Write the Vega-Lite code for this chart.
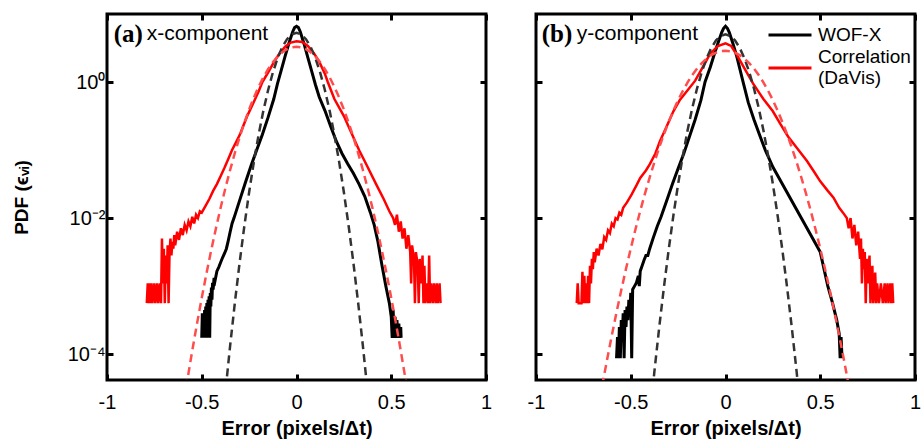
{
"$schema": "https://vega.github.io/schema/vega-lite/v6.json",
"padding": {"left": 10, "top": 10, "right": 0, "bottom": 2},
"background": "white",
"config": {
  "font": "Liberation Sans",
  "view": {"stroke": "black", "strokeWidth": 3},
  "axis": {"grid": false, "domain": false, "tickColor": "black", "tickWidth": 3, "tickSize": -6, "labelColor": "black", "titleColor": "black", "labelFont": "Liberation Sans", "titleFont": "Liberation Sans", "labelFlush": false, "labelOverlap": false, "labelBound": false}
},
"datasets": {
  "a_wof": [{"x":-0.500,"y":-3.76},{"x":-0.497,"y":-3.40},{"x":-0.494,"y":-3.76},{"x":-0.491,"y":-3.45},{"x":-0.488,"y":-3.76},{"x":-0.485,"y":-3.35},{"x":-0.482,"y":-3.76},{"x":-0.479,"y":-3.30},{"x":-0.476,"y":-3.60},{"x":-0.473,"y":-3.25},{"x":-0.470,"y":-3.76},{"x":-0.467,"y":-3.20},{"x":-0.464,"y":-3.45},{"x":-0.461,"y":-3.15},{"x":-0.458,"y":-3.76},{"x":-0.455,"y":-3.10},{"x":-0.452,"y":-3.30},{"x":-0.449,"y":-3.02},{"x":-0.446,"y":-3.20},{"x":-0.443,"y":-2.95},{"x":-0.440,"y":-3.05},{"x":-0.435,"y":-2.88},{"x":-0.430,"y":-2.92},{"x":-0.420,"y":-2.78},{"x":-0.410,"y":-2.72},{"x":-0.400,"y":-2.65},{"x":-0.390,"y":-2.58},{"x":-0.380,"y":-2.52},{"x":-0.370,"y":-2.45},{"x":-0.360,"y":-2.33},{"x":-0.350,"y":-2.20},{"x":-0.340,"y":-2.08},{"x":-0.330,"y":-2.00},{"x":-0.300,"y":-1.74},{"x":-0.270,"y":-1.48},{"x":-0.240,"y":-1.23},{"x":-0.210,"y":-1.00},{"x":-0.180,"y":-0.77},{"x":-0.150,"y":-0.52},{"x":-0.120,"y":-0.25},{"x":-0.100,"y":-0.02},{"x":-0.080,"y":0.18},{"x":-0.060,"y":0.38},{"x":-0.040,"y":0.57},{"x":-0.020,"y":0.74},{"x":-0.010,"y":0.80},{"x":0,"y":0.82},{"x":0.010,"y":0.80},{"x":0.020,"y":0.74},{"x":0.040,"y":0.56},{"x":0.060,"y":0.36},{"x":0.080,"y":0.16},{"x":0.100,"y":-0.04},{"x":0.120,"y":-0.22},{"x":0.150,"y":-0.42},{"x":0.180,"y":-0.65},{"x":0.210,"y":-0.87},{"x":0.240,"y":-1.05},{"x":0.270,"y":-1.20},{"x":0.300,"y":-1.34},{"x":0.330,"y":-1.50},{"x":0.360,"y":-1.68},{"x":0.390,"y":-1.92},{"x":0.410,"y":-2.10},{"x":0.430,"y":-2.35},{"x":0.450,"y":-2.68},{"x":0.470,"y":-2.98},{"x":0.490,"y":-3.25},{"x":0.500,"y":-3.45},{"x":0.505,"y":-3.76},{"x":0.510,"y":-3.35},{"x":0.515,"y":-3.76},{"x":0.520,"y":-3.45},{"x":0.525,"y":-3.76},{"x":0.530,"y":-3.50},{"x":0.535,"y":-3.76},{"x":0.540,"y":-3.55},{"x":0.545,"y":-3.76},{"x":0.550,"y":-3.60},{"x":0.552,"y":-3.76}],
  "a_corr": [{"x":-0.790,"y":-3.25},{"x":-0.785,"y":-2.96},{"x":-0.780,"y":-3.25},{"x":-0.775,"y":-2.96},{"x":-0.770,"y":-3.25},{"x":-0.765,"y":-2.96},{"x":-0.760,"y":-3.25},{"x":-0.750,"y":-2.96},{"x":-0.745,"y":-3.25},{"x":-0.735,"y":-2.96},{"x":-0.730,"y":-3.25},{"x":-0.720,"y":-2.96},{"x":-0.715,"y":-3.25},{"x":-0.710,"y":-2.30},{"x":-0.705,"y":-2.96},{"x":-0.700,"y":-2.45},{"x":-0.695,"y":-3.25},{"x":-0.690,"y":-2.55},{"x":-0.685,"y":-2.96},{"x":-0.680,"y":-2.40},{"x":-0.675,"y":-3.25},{"x":-0.670,"y":-2.50},{"x":-0.665,"y":-2.30},{"x":-0.660,"y":-2.55},{"x":-0.655,"y":-2.35},{"x":-0.650,"y":-2.45},{"x":-0.645,"y":-2.25},{"x":-0.640,"y":-2.40},{"x":-0.630,"y":-2.20},{"x":-0.620,"y":-2.32},{"x":-0.610,"y":-2.15},{"x":-0.600,"y":-2.25},{"x":-0.590,"y":-2.10},{"x":-0.580,"y":-2.18},{"x":-0.570,"y":-2.05},{"x":-0.560,"y":-2.12},{"x":-0.550,"y":-1.98},{"x":-0.540,"y":-2.08},{"x":-0.530,"y":-1.95},{"x":-0.520,"y":-2.00},{"x":-0.510,"y":-1.90},{"x":-0.500,"y":-1.92},{"x":-0.480,"y":-1.82},{"x":-0.460,"y":-1.72},{"x":-0.440,"y":-1.60},{"x":-0.420,"y":-1.50},{"x":-0.400,"y":-1.38},{"x":-0.380,"y":-1.26},{"x":-0.360,"y":-1.13},{"x":-0.340,"y":-1.00},{"x":-0.320,"y":-0.89},{"x":-0.300,"y":-0.78},{"x":-0.280,"y":-0.64},{"x":-0.260,"y":-0.50},{"x":-0.240,"y":-0.38},{"x":-0.220,"y":-0.26},{"x":-0.200,"y":-0.14},{"x":-0.180,"y":0.00},{"x":-0.150,"y":0.14},{"x":-0.120,"y":0.29},{"x":-0.090,"y":0.42},{"x":-0.060,"y":0.52},{"x":-0.030,"y":0.58},{"x":0,"y":0.60},{"x":0.030,"y":0.59},{"x":0.060,"y":0.53},{"x":0.090,"y":0.43},{"x":0.120,"y":0.30},{"x":0.150,"y":0.12},{"x":0.165,"y":0.00},{"x":0.200,"y":-0.25},{"x":0.250,"y":-0.50},{"x":0.290,"y":-0.75},{"x":0.330,"y":-1.00},{"x":0.370,"y":-1.22},{"x":0.420,"y":-1.50},{"x":0.460,"y":-1.72},{"x":0.490,"y":-1.90},{"x":0.510,"y":-2.00},{"x":0.520,"y":-2.10},{"x":0.530,"y":-1.95},{"x":0.540,"y":-2.20},{"x":0.550,"y":-2.05},{"x":0.560,"y":-2.30},{"x":0.570,"y":-2.15},{"x":0.580,"y":-2.45},{"x":0.590,"y":-2.25},{"x":0.600,"y":-2.50},{"x":0.605,"y":-2.96},{"x":0.610,"y":-2.40},{"x":0.620,"y":-2.60},{"x":0.625,"y":-3.25},{"x":0.630,"y":-2.50},{"x":0.640,"y":-2.70},{"x":0.645,"y":-3.25},{"x":0.650,"y":-2.60},{"x":0.660,"y":-2.96},{"x":0.665,"y":-2.55},{"x":0.670,"y":-3.25},{"x":0.675,"y":-2.70},{"x":0.680,"y":-3.25},{"x":0.690,"y":-2.96},{"x":0.695,"y":-3.25},{"x":0.700,"y":-2.55},{"x":0.705,"y":-3.25},{"x":0.710,"y":-2.96},{"x":0.720,"y":-3.25},{"x":0.725,"y":-2.96},{"x":0.735,"y":-3.25},{"x":0.740,"y":-2.96},{"x":0.745,"y":-3.25},{"x":0.755,"y":-2.96},{"x":0.760,"y":-3.25}],
  "a_wof_fit": [{"x":-0.4,"y":-5.276},{"x":-0.375,"y":-4.549},{"x":-0.35,"y":-3.87},{"x":-0.325,"y":-3.237},{"x":-0.3,"y":-2.651},{"x":-0.275,"y":-2.112},{"x":-0.25,"y":-1.62},{"x":-0.225,"y":-1.174},{"x":-0.2,"y":-0.776},{"x":-0.175,"y":-0.424},{"x":-0.15,"y":-0.12},{"x":-0.125,"y":0.138},{"x":-0.1,"y":0.349},{"x":-0.075,"y":0.513},{"x":-0.05,"y":0.63},{"x":-0.025,"y":0.70},{"x":0,"y":0.724},{"x":0.025,"y":0.70},{"x":0.05,"y":0.63},{"x":0.075,"y":0.513},{"x":0.1,"y":0.349},{"x":0.125,"y":0.138},{"x":0.15,"y":-0.12},{"x":0.175,"y":-0.424},{"x":0.2,"y":-0.776},{"x":0.225,"y":-1.174},{"x":0.25,"y":-1.62},{"x":0.275,"y":-2.112},{"x":0.3,"y":-2.651},{"x":0.325,"y":-3.237},{"x":0.35,"y":-3.87},{"x":0.375,"y":-4.549},{"x":0.4,"y":-5.276}],
  "a_corr_fit": [{"x":-0.625,"y":-5.25},{"x":-0.6,"y":-4.797},{"x":-0.575,"y":-4.363},{"x":-0.55,"y":-3.948},{"x":-0.525,"y":-3.551},{"x":-0.5,"y":-3.173},{"x":-0.475,"y":-2.812},{"x":-0.45,"y":-2.471},{"x":-0.425,"y":-2.148},{"x":-0.4,"y":-1.843},{"x":-0.375,"y":-1.557},{"x":-0.35,"y":-1.289},{"x":-0.325,"y":-1.04},{"x":-0.3,"y":-0.809},{"x":-0.275,"y":-0.597},{"x":-0.25,"y":-0.403},{"x":-0.225,"y":-0.228},{"x":-0.2,"y":-0.071},{"x":-0.175,"y":0.068},{"x":-0.15,"y":0.188},{"x":-0.125,"y":0.289},{"x":-0.1,"y":0.372},{"x":-0.075,"y":0.437},{"x":-0.05,"y":0.483},{"x":-0.025,"y":0.511},{"x":0,"y":0.52},{"x":0.025,"y":0.511},{"x":0.05,"y":0.483},{"x":0.075,"y":0.437},{"x":0.1,"y":0.372},{"x":0.125,"y":0.289},{"x":0.15,"y":0.188},{"x":0.175,"y":0.068},{"x":0.2,"y":-0.071},{"x":0.225,"y":-0.228},{"x":0.25,"y":-0.403},{"x":0.275,"y":-0.597},{"x":0.3,"y":-0.809},{"x":0.325,"y":-1.04},{"x":0.35,"y":-1.289},{"x":0.375,"y":-1.557},{"x":0.4,"y":-1.843},{"x":0.425,"y":-2.148},{"x":0.45,"y":-2.471},{"x":0.475,"y":-2.812},{"x":0.5,"y":-3.173},{"x":0.525,"y":-3.551},{"x":0.55,"y":-3.948},{"x":0.575,"y":-4.363},{"x":0.6,"y":-4.797},{"x":0.625,"y":-5.25}],
  "b_wof": [{"x":-0.575,"y":-4.06},{"x":-0.570,"y":-3.75},{"x":-0.565,"y":-4.06},{"x":-0.560,"y":-3.60},{"x":-0.555,"y":-4.06},{"x":-0.550,"y":-3.50},{"x":-0.545,"y":-3.80},{"x":-0.540,"y":-3.40},{"x":-0.535,"y":-4.06},{"x":-0.530,"y":-3.35},{"x":-0.525,"y":-3.60},{"x":-0.520,"y":-3.30},{"x":-0.515,"y":-3.50},{"x":-0.510,"y":-3.20},{"x":-0.505,"y":-3.45},{"x":-0.500,"y":-3.10},{"x":-0.495,"y":-4.06},{"x":-0.490,"y":-3.05},{"x":-0.480,"y":-3.00},{"x":-0.470,"y":-2.95},{"x":-0.460,"y":-2.85},{"x":-0.455,"y":-3.00},{"x":-0.450,"y":-2.78},{"x":-0.440,"y":-2.70},{"x":-0.430,"y":-2.62},{"x":-0.420,"y":-2.55},{"x":-0.410,"y":-2.55},{"x":-0.400,"y":-2.45},{"x":-0.380,"y":-2.28},{"x":-0.360,"y":-2.12},{"x":-0.340,"y":-1.98},{"x":-0.310,"y":-1.74},{"x":-0.280,"y":-1.50},{"x":-0.250,"y":-1.27},{"x":-0.220,"y":-1.05},{"x":-0.190,"y":-0.80},{"x":-0.160,"y":-0.55},{"x":-0.130,"y":-0.27},{"x":-0.108,"y":0.00},{"x":-0.080,"y":0.22},{"x":-0.060,"y":0.40},{"x":-0.040,"y":0.57},{"x":-0.020,"y":0.73},{"x":-0.010,"y":0.79},{"x":0,"y":0.82},{"x":0.010,"y":0.79},{"x":0.020,"y":0.73},{"x":0.040,"y":0.56},{"x":0.060,"y":0.37},{"x":0.093,"y":0.00},{"x":0.120,"y":-0.30},{"x":0.150,"y":-0.55},{"x":0.180,"y":-0.78},{"x":0.210,"y":-1.00},{"x":0.250,"y":-1.25},{"x":0.300,"y":-1.50},{"x":0.350,"y":-1.75},{"x":0.400,"y":-2.00},{"x":0.450,"y":-2.25},{"x":0.500,"y":-2.50},{"x":0.520,"y":-2.75},{"x":0.540,"y":-3.00},{"x":0.565,"y":-3.25},{"x":0.587,"y":-3.50},{"x":0.600,"y":-3.70},{"x":0.605,"y":-4.06},{"x":0.610,"y":-3.75},{"x":0.615,"y":-4.06}],
  "b_corr": [{"x":-0.785,"y":-3.25},{"x":-0.780,"y":-2.96},{"x":-0.775,"y":-3.25},{"x":-0.760,"y":-3.25},{"x":-0.755,"y":-2.79},{"x":-0.750,"y":-3.25},{"x":-0.745,"y":-2.85},{"x":-0.740,"y":-3.25},{"x":-0.735,"y":-2.96},{"x":-0.730,"y":-3.25},{"x":-0.725,"y":-2.85},{"x":-0.720,"y":-3.25},{"x":-0.715,"y":-2.70},{"x":-0.710,"y":-2.96},{"x":-0.705,"y":-2.60},{"x":-0.700,"y":-2.75},{"x":-0.695,"y":-2.50},{"x":-0.690,"y":-2.65},{"x":-0.680,"y":-2.45},{"x":-0.670,"y":-2.55},{"x":-0.660,"y":-2.38},{"x":-0.650,"y":-2.46},{"x":-0.640,"y":-2.28},{"x":-0.630,"y":-2.32},{"x":-0.620,"y":-2.18},{"x":-0.610,"y":-2.22},{"x":-0.600,"y":-2.08},{"x":-0.590,"y":-2.12},{"x":-0.580,"y":-2.00},{"x":-0.570,"y":-2.02},{"x":-0.560,"y":-1.92},{"x":-0.550,"y":-1.95},{"x":-0.540,"y":-1.85},{"x":-0.520,"y":-1.77},{"x":-0.495,"y":-1.65},{"x":-0.470,"y":-1.52},{"x":-0.450,"y":-1.41},{"x":-0.420,"y":-1.30},{"x":-0.400,"y":-1.21},{"x":-0.370,"y":-1.05},{"x":-0.346,"y":-0.87},{"x":-0.310,"y":-0.65},{"x":-0.275,"y":-0.43},{"x":-0.240,"y":-0.26},{"x":-0.200,"y":-0.12},{"x":-0.160,"y":0.02},{"x":-0.120,"y":0.22},{"x":-0.080,"y":0.42},{"x":-0.040,"y":0.53},{"x":0,"y":0.57},{"x":0.030,"y":0.53},{"x":0.060,"y":0.40},{"x":0.100,"y":0.20},{"x":0.145,"y":-0.02},{"x":0.200,"y":-0.25},{"x":0.250,"y":-0.43},{"x":0.290,"y":-0.62},{"x":0.330,"y":-0.80},{"x":0.380,"y":-0.98},{"x":0.430,"y":-1.16},{"x":0.470,"y":-1.33},{"x":0.500,"y":-1.46},{"x":0.540,"y":-1.60},{"x":0.570,"y":-1.70},{"x":0.600,"y":-1.85},{"x":0.620,"y":-1.92},{"x":0.640,"y":-2.00},{"x":0.650,"y":-2.15},{"x":0.660,"y":-2.00},{"x":0.670,"y":-2.30},{"x":0.680,"y":-2.10},{"x":0.690,"y":-2.40},{"x":0.700,"y":-2.20},{"x":0.710,"y":-2.60},{"x":0.715,"y":-2.30},{"x":0.720,"y":-2.96},{"x":0.725,"y":-2.45},{"x":0.730,"y":-2.75},{"x":0.735,"y":-2.50},{"x":0.740,"y":-3.25},{"x":0.745,"y":-2.60},{"x":0.750,"y":-2.96},{"x":0.760,"y":-2.55},{"x":0.765,"y":-3.25},{"x":0.775,"y":-2.70},{"x":0.780,"y":-3.25},{"x":0.790,"y":-2.80},{"x":0.795,"y":-3.25},{"x":0.800,"y":-2.96},{"x":0.810,"y":-3.25},{"x":0.820,"y":-2.96},{"x":0.830,"y":-3.25},{"x":0.840,"y":-2.96},{"x":0.845,"y":-3.25},{"x":0.855,"y":-2.96},{"x":0.860,"y":-3.25},{"x":0.870,"y":-2.96},{"x":0.875,"y":-3.25},{"x":0.880,"y":-2.96},{"x":0.885,"y":-3.25}],
  "b_wof_fit": [{"x":-0.425,"y":-5.657},{"x":-0.4,"y":-4.932},{"x":-0.375,"y":-4.25},{"x":-0.35,"y":-3.612},{"x":-0.325,"y":-3.018},{"x":-0.3,"y":-2.468},{"x":-0.275,"y":-1.962},{"x":-0.25,"y":-1.5},{"x":-0.225,"y":-1.082},{"x":-0.2,"y":-0.708},{"x":-0.175,"y":-0.378},{"x":-0.15,"y":-0.092},{"x":-0.125,"y":0.15},{"x":-0.1,"y":0.348},{"x":-0.075,"y":0.502},{"x":-0.05,"y":0.612},{"x":-0.025,"y":0.678},{"x":0,"y":0.7},{"x":0.025,"y":0.678},{"x":0.05,"y":0.612},{"x":0.075,"y":0.502},{"x":0.1,"y":0.348},{"x":0.125,"y":0.15},{"x":0.15,"y":-0.092},{"x":0.175,"y":-0.378},{"x":0.2,"y":-0.708},{"x":0.225,"y":-1.082},{"x":0.25,"y":-1.5},{"x":0.275,"y":-1.962},{"x":0.3,"y":-2.468},{"x":0.325,"y":-3.018},{"x":0.35,"y":-3.612},{"x":0.375,"y":-4.25},{"x":0.4,"y":-4.932},{"x":0.425,"y":-5.657}],
  "b_corr_fit": [{"x":-0.675,"y":-4.839},{"x":-0.65,"y":-4.454},{"x":-0.625,"y":-4.083},{"x":-0.6,"y":-3.727},{"x":-0.575,"y":-3.385},{"x":-0.55,"y":-3.058},{"x":-0.525,"y":-2.746},{"x":-0.5,"y":-2.448},{"x":-0.475,"y":-2.164},{"x":-0.45,"y":-1.895},{"x":-0.425,"y":-1.64},{"x":-0.4,"y":-1.401},{"x":-0.375,"y":-1.175},{"x":-0.35,"y":-0.965},{"x":-0.325,"y":-0.768},{"x":-0.3,"y":-0.587},{"x":-0.275,"y":-0.419},{"x":-0.25,"y":-0.267},{"x":-0.225,"y":-0.129},{"x":-0.2,"y":-0.005},{"x":-0.175,"y":0.104},{"x":-0.15,"y":0.198},{"x":-0.125,"y":0.278},{"x":-0.1,"y":0.344},{"x":-0.075,"y":0.395},{"x":-0.05,"y":0.431},{"x":-0.025,"y":0.453},{"x":0,"y":0.46},{"x":0.025,"y":0.453},{"x":0.05,"y":0.431},{"x":0.075,"y":0.395},{"x":0.1,"y":0.344},{"x":0.125,"y":0.278},{"x":0.15,"y":0.198},{"x":0.175,"y":0.104},{"x":0.2,"y":-0.005},{"x":0.225,"y":-0.129},{"x":0.25,"y":-0.267},{"x":0.275,"y":-0.419},{"x":0.3,"y":-0.587},{"x":0.325,"y":-0.768},{"x":0.35,"y":-0.965},{"x":0.375,"y":-1.175},{"x":0.4,"y":-1.401},{"x":0.425,"y":-1.64},{"x":0.45,"y":-1.895},{"x":0.475,"y":-2.164},{"x":0.5,"y":-2.448},{"x":0.525,"y":-2.746},{"x":0.55,"y":-3.058},{"x":0.575,"y":-3.385},{"x":0.6,"y":-3.727},{"x":0.625,"y":-4.083},{"x":0.65,"y":-4.454},{"x":0.675,"y":-4.839}]
},
"spacing": 31,
"resolve": {"scale": {"color": "independent"}, "legend": {"color": "independent"}},
"hconcat": [
 {
  "width": 379, "height": 366,
  "resolve": {"axis": {"x": "independent", "y": "independent"}},
  "layer": [
   {"data": {"name": "a_wof"}, "mark": {"type": "line", "strokeWidth": 3, "clip": true},
    "encoding": {
     "x": {"field": "x", "type": "quantitative", "scale": {"domain": [-1, 1], "nice": false, "zero": false},
       "axis": {"orient": "bottom", "values": [-1, -0.5, 0, 0.5, 1], "labelExpr": "datum.value < 0 ? '-' + format(-datum.value, '~g') : format(datum.value, '~g')", "labelFontSize": 20, "labelPadding": 18, "title": "Error (pixels/Δt)", "titleFontSize": 20, "titleFontWeight": "bold", "titlePadding": 6}},
     "y": {"field": "y", "type": "quantitative", "scale": {"domain": [-4.38, 1], "nice": false, "zero": false},
       "axis": {"orient": "left", "values": [-4, -2, 0], "labelExpr": "datum.value == 0 ? '10⁰' : datum.value == -2 ? '10⁻²' : '10⁻⁴'", "labelFontSize": 20, "labelPadding": 8, "title": "PDF (ϵᵥᵢ)", "titleFontSize": 19, "titleFontWeight": "bold", "titlePadding": 36}},
     "color": {"datum": "WOF-X", "type": "nominal", "scale": {"domain": ["WOF-X", "Correlation (DaVis)"], "range": ["#000000", "#ff0000"]}, "legend": null}
    }},
   {"data": {"name": "a_corr"}, "mark": {"type": "line", "strokeWidth": 2.5, "clip": true},
    "encoding": {
     "x": {"field": "x", "type": "quantitative", "axis": null},
     "y": {"field": "y", "type": "quantitative", "axis": null},
     "color": {"datum": "Correlation (DaVis)", "type": "nominal", "legend": null}
    }},
   {"data": {"name": "a_wof_fit"}, "mark": {"type": "line", "strokeWidth": 2.5, "strokeDash": [8, 5], "color": "#333333", "clip": true},
    "encoding": {
     "x": {"field": "x", "type": "quantitative", "axis": {"orient": "top", "values": [-1, -0.5, 0, 0.5, 1], "labels": false, "title": null}},
     "y": {"field": "y", "type": "quantitative", "axis": {"orient": "right", "values": [-4, -2, 0], "labels": false, "title": null}}
    }},
   {"data": {"name": "a_corr_fit"}, "mark": {"type": "line", "strokeWidth": 2.5, "strokeDash": [8, 5], "color": "#ff4d4d", "clip": true},
    "encoding": {
     "x": {"field": "x", "type": "quantitative", "axis": null},
     "y": {"field": "y", "type": "quantitative", "axis": null}
    }},
   {"data": {"values": [{}]}, "mark": {"type": "text", "text": "(a)", "font": "Liberation Serif", "fontWeight": "bold", "fontSize": 25, "align": "left", "baseline": "middle"},
    "encoding": {"x": {"datum": -0.965, "type": "quantitative", "axis": null}, "y": {"datum": 0.7, "type": "quantitative", "axis": null}}},
   {"data": {"values": [{}]}, "mark": {"type": "text", "text": "x-component", "fontSize": 21, "align": "left", "baseline": "middle"},
    "encoding": {"x": {"datum": -0.79, "type": "quantitative", "axis": null}, "y": {"datum": 0.7, "type": "quantitative", "axis": null}}}
  ]
 },
 {
  "width": 379, "height": 366,
  "resolve": {"axis": {"x": "independent", "y": "independent"}},
  "layer": [
   {"data": {"name": "b_wof"}, "mark": {"type": "line", "strokeWidth": 3, "clip": true},
    "encoding": {
     "x": {"field": "x", "type": "quantitative", "scale": {"domain": [-1, 1], "nice": false, "zero": false},
       "axis": {"orient": "bottom", "values": [-1, -0.5, 0, 0.5, 1], "labelExpr": "datum.value < 0 ? '-' + format(-datum.value, '~g') : format(datum.value, '~g')", "labelFontSize": 20, "labelPadding": 18, "title": "Error (pixels/Δt)", "titleFontSize": 20, "titleFontWeight": "bold", "titlePadding": 6}},
     "y": {"field": "y", "type": "quantitative", "scale": {"domain": [-4.38, 1], "nice": false, "zero": false},
       "axis": {"orient": "left", "values": [-4, -2, 0], "labels": false, "title": null}},
     "color": {"datum": "WOF-X", "type": "nominal", "scale": {"domain": ["WOF-X", "Correlation (DaVis)"], "range": ["#000000", "#ff0000"]},
       "legend": {"orient": "none", "legendX": 231, "legendY": -2, "title": null, "symbolType": "stroke", "symbolSize": 1849, "symbolStrokeWidth": 3, "labelFontSize": 19, "labelFont": "Liberation Sans", "labelColor": "black", "labelExpr": "datum.label == 'Correlation (DaVis)' ? ['Correlation', '(DaVis)'] : datum.label", "labelLimit": 300, "padding": 0, "rowPadding": -9, "labelOffset": 5,
         "encoding": {"labels": {"dy": {"value": {"expr": "datum.value == 'Correlation (DaVis)' ? -11 : 0"}}}}}}
    }},
   {"data": {"name": "b_corr"}, "mark": {"type": "line", "strokeWidth": 2.5, "clip": true},
    "encoding": {
     "x": {"field": "x", "type": "quantitative", "axis": null},
     "y": {"field": "y", "type": "quantitative", "axis": null},
     "color": {"datum": "Correlation (DaVis)", "type": "nominal"}
    }},
   {"data": {"name": "b_wof_fit"}, "mark": {"type": "line", "strokeWidth": 2.5, "strokeDash": [8, 5], "color": "#333333", "clip": true},
    "encoding": {
     "x": {"field": "x", "type": "quantitative", "axis": {"orient": "top", "values": [-1, -0.5, 0, 0.5, 1], "labels": false, "title": null}},
     "y": {"field": "y", "type": "quantitative", "axis": {"orient": "right", "values": [-4, -2, 0], "labels": false, "title": null}}
    }},
   {"data": {"name": "b_corr_fit"}, "mark": {"type": "line", "strokeWidth": 2.5, "strokeDash": [8, 5], "color": "#ff4d4d", "clip": true},
    "encoding": {
     "x": {"field": "x", "type": "quantitative", "axis": null},
     "y": {"field": "y", "type": "quantitative", "axis": null}
    }},
   {"data": {"values": [{}]}, "mark": {"type": "text", "text": "(b)", "font": "Liberation Serif", "fontWeight": "bold", "fontSize": 25, "align": "left", "baseline": "middle"},
    "encoding": {"x": {"datum": -0.97, "type": "quantitative", "axis": null}, "y": {"datum": 0.7, "type": "quantitative", "axis": null}}},
   {"data": {"values": [{}]}, "mark": {"type": "text", "text": "y-component", "fontSize": 21, "align": "left", "baseline": "middle"},
    "encoding": {"x": {"datum": -0.785, "type": "quantitative", "axis": null}, "y": {"datum": 0.7, "type": "quantitative", "axis": null}}}
  ]
 }
]
}
